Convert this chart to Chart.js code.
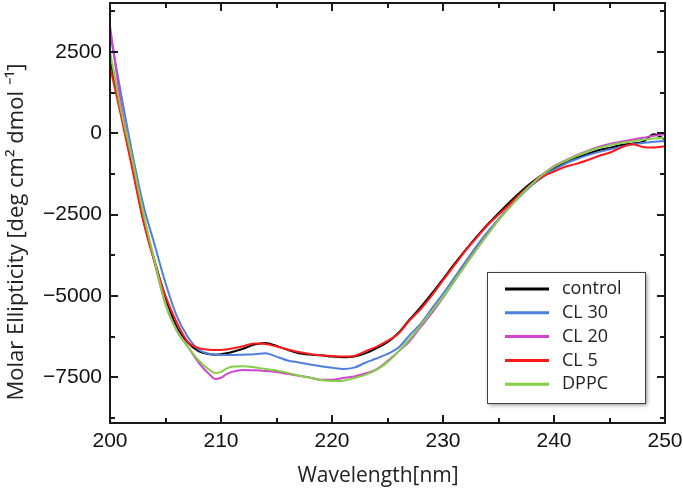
<!DOCTYPE html>
<html>
<head>
<meta charset="utf-8">
<script src="https://cdn.jsdelivr.net/npm/chart.js@4/dist/chart.umd.min.js"></script>
<style>
  html, body { margin: 0; padding: 0; background: #fff; }
  #wrap { width: 683px; height: 490px; }
</style>
</head>
<body>
<div id="wrap"><canvas id="cdChart" width="683" height="490"></canvas></div>
<script>
// Wavelength (nm) and molar ellipticity
const wavelengths = [200, 201, 202, 203, 204, 205, 206, 207, 208, 209,
    209.5, 210, 210.5, 211, 212, 213, 214, 215, 216, 217, 218, 219,
    220, 221, 222, 223, 224, 225, 226, 227, 228, 229,
    230, 231, 232, 233, 234, 235, 236, 237, 238, 239,
    240, 241, 242, 243, 244, 245, 246, 247, 248, 249, 250];

const control = [2250, 620, -1000, -2650, -3900, -5050, -5940, -6420, -6700, -6790,
    -6800, -6790, -6760, -6720, -6620, -6490, -6440, -6530, -6650, -6760, -6800, -6820,
    -6860, -6880, -6860, -6760, -6600, -6420, -6130, -5720, -5340, -4920,
    -4480, -4030, -3600, -3190, -2810, -2460, -2120, -1800, -1510, -1260,
    -1060, -900, -760, -640, -520, -450, -370, -320, -270, -30, -190];

const cl30 = [3100, 1200, -600, -2200, -3400, -4600, -5600, -6250, -6650, -6780,
    -6800, -6810, -6810, -6810, -6800, -6790, -6760, -6860, -6980, -7040, -7100, -7160,
    -7200, -7240, -7200, -7050, -6920, -6780, -6580, -6200, -5850, -5380,
    -4930, -4450, -3960, -3480, -3040, -2640, -2260, -1920, -1600, -1340,
    -1120, -940, -800, -680, -580, -500, -420, -350, -300, -260, -245];

const cl20 = [3300, 900, -900, -2500, -3950, -5250, -6050, -6550, -7050, -7420,
    -7550, -7510, -7400, -7330, -7270, -7280, -7300, -7330, -7390, -7450, -7500, -7570,
    -7570, -7520, -7470, -7380, -7250, -7000, -6700, -6380, -5950, -5520,
    -5050, -4550, -4050, -3560, -3100, -2660, -2250, -1880, -1550, -1260,
    -1010, -840, -680, -540, -420, -330, -260, -200, -140, -80, -30];

const cl5 = [2050, 530, -1080, -2700, -3950, -5000, -5800, -6400, -6600, -6650,
    -6660, -6660, -6640, -6610, -6540, -6460, -6470, -6550, -6640, -6720, -6780, -6820,
    -6840, -6860, -6840, -6700, -6560, -6380, -6150, -5750, -5400, -4980,
    -4520, -4070, -3620, -3220, -2830, -2500, -2180, -1850, -1560, -1330,
    -1180, -1030, -940, -830, -700, -600, -450, -340, -420, -440, -400];

const dppc = [2500, 700, -800, -2450, -3900, -5250, -6050, -6550, -6980, -7280,
    -7370, -7330, -7230, -7170, -7160, -7190, -7240, -7290, -7360, -7440, -7510, -7580,
    -7610, -7600, -7520, -7420, -7270, -7030, -6700, -6320, -5900, -5460,
    -5030, -4550, -4060, -3580, -3120, -2680, -2280, -1900, -1570, -1270,
    -1030, -860, -700, -560, -450, -370, -300, -250, -200, -160, -140];

const seriesNames = ['control', 'CL 30', 'CL 20', 'CL 5', 'DPPC'];
const seriesColors = ['#000000', '#4f7fdc', '#d044d0', '#ff1a1a', '#84cf45'];

const xTicks = [200, 210, 220, 230, 240, 250];
const xMinorTicks = [205, 215, 225, 235, 245];
const yTicks = [-7500, -5000, -2500, 0, 2500];
const yMinorTicks = [-8750, -6250, -3750, -1250, 1250, 3750];

const xTitle = 'Wavelength[nm]';
const yTitle = 'Molar Ellipticity [deg cm\u00b2 dmol \u207b\u00b9]';

const allSeries = [control, cl30, cl20, cl5, dppc];

// frame + inward ticks on all four sides, axis titles
const frameTicks = {
    id: 'frameTicks',
    afterDatasetsDraw(chart) {
        const { ctx, chartArea: a, scales: { x, y } } = chart;
        ctx.save();
        ctx.strokeStyle = '#1a1a1a';
        ctx.lineWidth = 2;
        ctx.strokeRect(a.left, a.top, a.right - a.left, a.bottom - a.top);
        ctx.beginPath();
        const tick = (vals, len, axis) => {
            vals.forEach(v => {
                if (axis === 'x') {
                    const px = Math.round(x.getPixelForValue(v));
                    ctx.moveTo(px, a.bottom); ctx.lineTo(px, a.bottom - len);
                    ctx.moveTo(px, a.top); ctx.lineTo(px, a.top + len);
                } else {
                    const py = Math.round(y.getPixelForValue(v));
                    ctx.moveTo(a.left, py); ctx.lineTo(a.left + len, py);
                    ctx.moveTo(a.right, py); ctx.lineTo(a.right - len, py);
                }
            });
        };
        tick(xTicks, 8, 'x');
        tick(xMinorTicks, 5, 'x');
        tick(yTicks, 8, 'y');
        tick(yMinorTicks, 5, 'y');
        ctx.stroke();

        ctx.fillStyle = '#222';
        ctx.textAlign = 'center';
        ctx.textBaseline = 'middle';
        ctx.font = '21px "Open Sans"';
        ctx.fillText(xTitle, 378, 476);

        ctx.translate(17, 232);
        ctx.rotate(-Math.PI / 2);
        ctx.font = '22px "Open Sans"';
        ctx.fillText(yTitle, 0, 0);
        ctx.restore();
    }
};

// boxed legend inside the plot, lower right
const boxLegend = {
    id: 'boxLegend',
    afterDraw(chart) {
        const ctx = chart.ctx;
        const bx = 487, by = 272, bw = 158, bh = 131;
        ctx.save();
        ctx.shadowColor = 'rgba(0,0,0,0.45)';
        ctx.shadowBlur = 4;
        ctx.shadowOffsetX = 2;
        ctx.shadowOffsetY = 2;
        ctx.fillStyle = '#fff';
        ctx.fillRect(bx, by, bw, bh);
        ctx.restore();
        ctx.save();
        ctx.strokeStyle = '#404040';
        ctx.lineWidth = 1;
        ctx.strokeRect(bx + 0.5, by + 0.5, bw, bh);
        ctx.font = '18px "Open Sans"';
        ctx.textBaseline = 'middle';
        chart.data.datasets.forEach((ds, i) => {
            const ly = by + 17 + i * 23.8;
            ctx.strokeStyle = ds.borderColor;
            ctx.lineWidth = 3;
            ctx.beginPath();
            ctx.moveTo(505, ly); ctx.lineTo(549, ly);
            ctx.stroke();
            ctx.fillStyle = '#222';
            ctx.fillText(ds.label, 562, ly);
        });
        ctx.restore();
    }
};

const chart = new Chart(document.getElementById('cdChart'), {
    type: 'line',
    data: {
        datasets: allSeries.map((vals, i) => ({
            label: seriesNames[i],
            data: wavelengths.map((w, j) => ({ x: w, y: vals[j] })),
            borderColor: seriesColors[i],
            borderWidth: 2,
            pointRadius: 0,
            cubicInterpolationMode: 'monotone',
            fill: false,
            order: allSeries.length - i
        }))
    },
    options: {
        responsive: false,
        animation: false,
        layout: { padding: { top: 3, right: 18, left: 0, bottom: 0 } },
        plugins: {
            legend: { display: false },
            tooltip: { enabled: false }
        },
        scales: {
            x: {
                type: 'linear',
                min: 200,
                max: 250,
                grid: { display: false, drawTicks: false },
                border: { display: false },
                afterBuildTicks: s => { s.ticks = xTicks.map(v => ({ value: v })); },
                afterFit: s => {
                    s.height = 67;
                    s.paddingLeft = 0; s.paddingRight = 0;
                },
                ticks: {
                    padding: 6,
                    color: '#111',
                    font: { family: 'Liberation Sans, Arial', size: 21 }
                }
            },
            y: {
                min: -8900,
                max: 4000,
                grid: { display: false, drawTicks: false },
                border: { display: false },
                afterBuildTicks: s => { s.ticks = yTicks.map(v => ({ value: v })); },
                afterFit: s => {
                    s.width = 110;
                    s.paddingTop = 0; s.paddingBottom = 0;
                },
                ticks: {
                    padding: 8,
                    color: '#111',
                    font: { family: 'Liberation Sans, Arial', size: 21 },
                    callback: v => (v < 0 ? '\u2212' + Math.abs(v) : String(v))
                }
            }
        }
    },
    plugins: [frameTicks, boxLegend]
});
</script>
</body>
</html>
